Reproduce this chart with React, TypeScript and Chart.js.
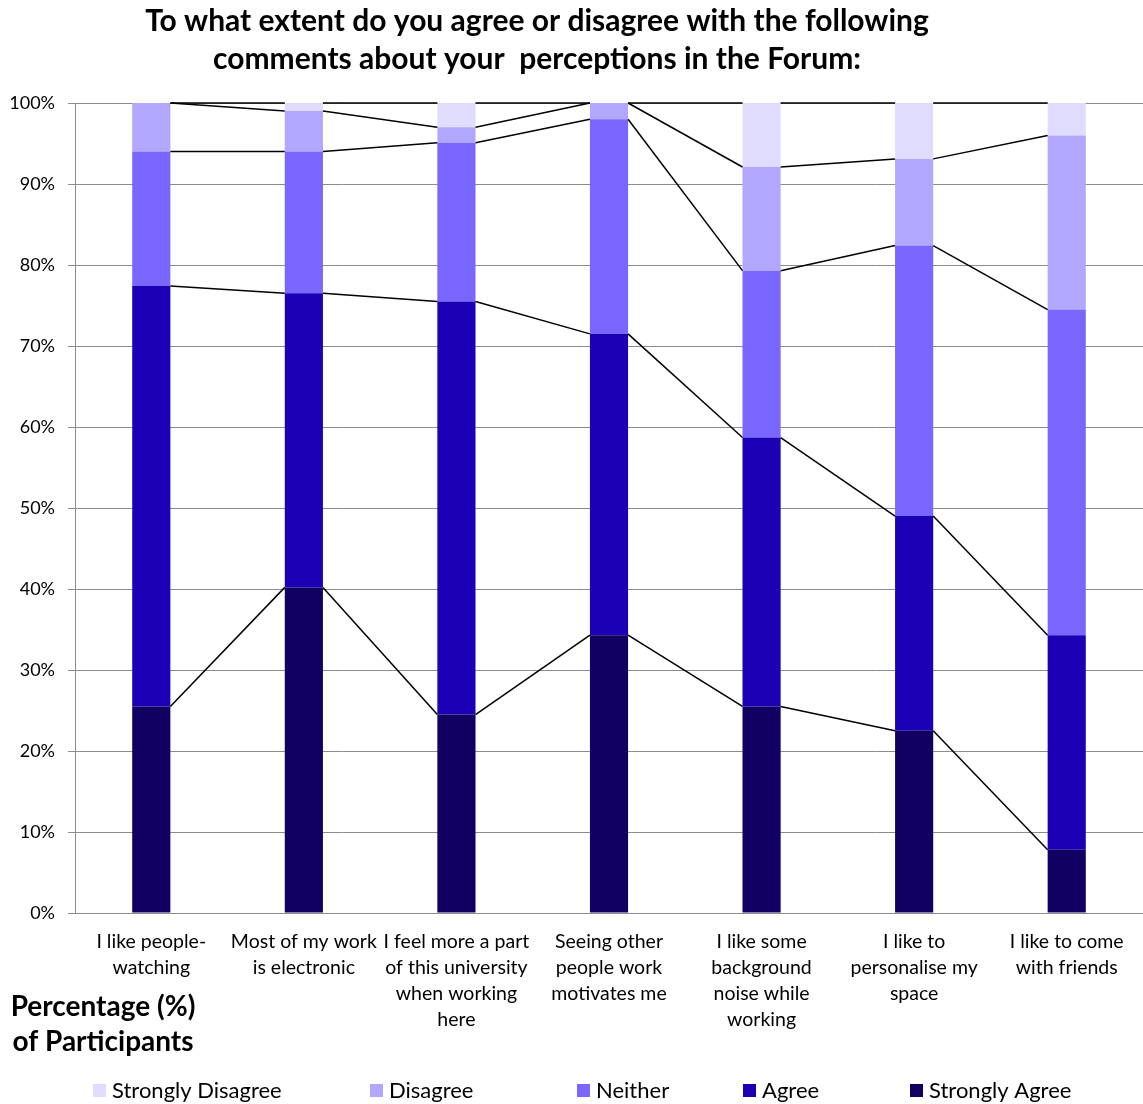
import React, { useEffect, useRef } from "react";
import { Chart, registerables } from "chart.js";

Chart.register(...registerables);

// Survey statements (x axis), each label split into its wrapped lines
const categories: string[][] = [
  ["I like people-", "watching"],
  ["Most of my work", "is electronic"],
  ["I feel more a part", "of this university", "when working", "here"],
  ["Seeing other", "people work", "motivates me"],
  ["I like some", "background", "noise while", "working"],
  ["I like to", "personalise my", "space"],
  ["I like to come", "with friends"],
];

// Share of participants (%) per response, stacked bottom to top
const stronglyAgree = [25.5, 40.2, 24.5, 34.3, 25.5, 22.5, 7.8];
const agree = [51.9, 36.3, 51.0, 37.2, 33.2, 26.5, 26.5];
const neither = [16.6, 17.5, 19.6, 26.5, 20.6, 33.4, 40.2];
const disagree = [6.0, 5.0, 1.9, 2.0, 12.8, 10.7, 21.5];
const stronglyDisagree = [0, 1.0, 3.0, 0, 7.9, 6.9, 4.0];

const yTickLabels = ["0%", "10%", "20%", "30%", "40%", "50%", "60%", "70%", "80%", "90%", "100%"];

const titleLines = [
  "To what extent do you agree or disagree with the following",
  "comments about your  perceptions in the Forum:",
];
const axisTitleLines = ["Percentage (%)", "of Participants"];

const COLORS = {
  stronglyDisagree: "#E0DCFF",
  disagree: "#B1A7FF",
  neither: "#7866FF",
  agree: "#1B00B5",
  stronglyAgree: "#110061",
};

const FONT = "Lato, 'Open Sans', sans-serif";

// Legend entries in display order (left to right)
const legendEntries = [
  { label: "Strongly Disagree", color: COLORS.stronglyDisagree },
  { label: "Disagree", color: COLORS.disagree },
  { label: "Neither", color: COLORS.neither },
  { label: "Agree", color: COLORS.agree },
  { label: "Strongly Agree", color: COLORS.stronglyAgree },
];
const LEGEND_X = [93, 370, 577, 743, 910];

// Connects the top of each stacked segment to the same segment on the next bar
const seriesLines = {
  id: "seriesLines",
  afterDatasetsDraw(chart: any) {
    const ctx = chart.ctx;
    ctx.save();
    ctx.strokeStyle = "#000";
    ctx.lineWidth = 1.5;
    chart.data.datasets.forEach((_: any, d: number) => {
      const meta = chart.getDatasetMeta(d);
      for (let i = 0; i < meta.data.length - 1; i++) {
        const a = meta.data[i] as any;
        const b = meta.data[i + 1] as any;
        ctx.beginPath();
        ctx.moveTo(a.x + a.width / 2, a.y);
        ctx.lineTo(b.x - b.width / 2, b.y);
        ctx.stroke();
      }
    });
    ctx.restore();
  },
};

// Title, axis caption and legend drawn around the plot
const annotations = {
  id: "annotations",
  afterDraw(chart: any) {
    const ctx = chart.ctx;
    ctx.save();
    ctx.fillStyle = "#000";
    ctx.textBaseline = "middle";

    ctx.textAlign = "center";
    ctx.font = `bold 30px ${FONT}`;
    ctx.fillText(titleLines[0], 537, 21);
    ctx.fillText(titleLines[1], 537, 59);

    ctx.font = `bold 28px ${FONT}`;
    ctx.fillText(axisTitleLines[0], 103, 1007);
    ctx.fillText(axisTitleLines[1], 103, 1042);

    ctx.textAlign = "left";
    ctx.font = `22px ${FONT}`;
    legendEntries.forEach((e, i) => {
      const x = LEGEND_X[i];
      ctx.fillStyle = e.color;
      ctx.fillRect(x, 1084, 13, 13);
      ctx.fillStyle = "#000";
      ctx.fillText(e.label, x + 19, 1091);
    });
    ctx.restore();
  },
};

export default function App() {
  const canvasRef = useRef<HTMLCanvasElement | null>(null);

  useEffect(() => {
    if (!canvasRef.current) return;
    const mk = (label: string, data: number[], color: string) => ({
      label,
      data,
      backgroundColor: color,
      borderWidth: 0,
      barPercentage: 0.25,
      categoryPercentage: 1,
    });
    const chart = new Chart(canvasRef.current, {
      type: "bar",
      data: {
        labels: categories,
        datasets: [
          mk("Strongly Agree", stronglyAgree, COLORS.stronglyAgree),
          mk("Agree", agree, COLORS.agree),
          mk("Neither", neither, COLORS.neither),
          mk("Disagree", disagree, COLORS.disagree),
          mk("Strongly Disagree", stronglyDisagree, COLORS.stronglyDisagree),
        ],
      },
      options: {
        responsive: false,
        animation: false,
        layout: { padding: { top: 103, bottom: 41, left: 0, right: 0 } },
        plugins: {
          legend: { display: false },
          title: { display: false },
          tooltip: { enabled: false },
        },
        scales: {
          x: {
            stacked: true,
            grid: { display: false },
            border: { display: true, color: "#8c8c8c", width: 1 },
            ticks: {
              autoSkip: false,
              maxRotation: 0,
              minRotation: 0,
              padding: 8,
              color: "#000",
              font: { family: FONT, size: 19.5, lineHeight: 26 / 19.5 },
            },
            afterFit(scale: any) {
              scale.height = 150;
            },
          },
          y: {
            stacked: true,
            min: 0,
            max: 100,
            grid: { color: "#8c8c8c", lineWidth: 1, drawTicks: true, tickLength: 7 },
            border: { display: true, color: "#8c8c8c", width: 1 },
            ticks: {
              stepSize: 10,
              padding: 13,
              color: "#000",
              font: { family: FONT, size: 18 },
              callback: (_v: any, i: number) => yTickLabels[i],
            },
            afterFit(scale: any) {
              scale.width = 75;
            },
          },
        },
      },
      plugins: [seriesLines, annotations],
    });
    return () => chart.destroy();
  }, []);

  return (
    <div style={{ position: "absolute", left: 0, top: 0, width: 1143, height: 1104, background: "#fff" }}>
      <canvas ref={canvasRef} width={1143} height={1104} style={{ display: "block" }} />
    </div>
  );
}
